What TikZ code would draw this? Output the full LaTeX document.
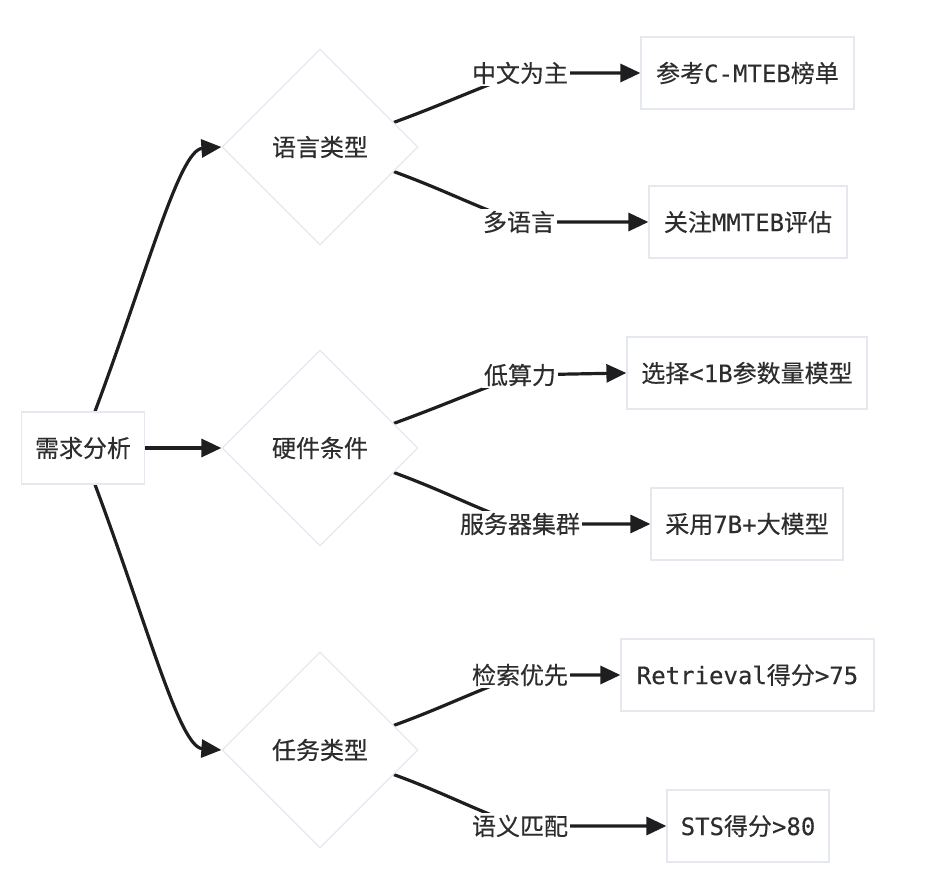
\documentclass[tikz,border=0pt]{standalone}
\usepackage{fontspec}
\setmainfont{Noto Sans CJK SC}[FakeBold=0.35]
\setmonofont{DejaVu Sans Mono}[FakeBold=0.2]
\usetikzlibrary{shapes.geometric,arrows.meta,calc,backgrounds}
\definecolor{boxline}{RGB}{229,232,238}
\definecolor{ink}{RGB}{45,45,45}
\definecolor{wire}{RGB}{30,30,32}
\begin{document}
\begin{tikzpicture}[x=0.5pt,y=0.5pt,
  font=\fontsize{12}{14}\selectfont,
  box/.style={draw=boxline, line width=0.6pt, fill=white, text=ink, minimum height=36pt, inner sep=0pt},
  choice/.style={diamond, draw=boxline, line width=0.6pt, fill=white, text=ink, minimum width=98pt, minimum height=98pt, inner sep=0pt},
  lbl/.style={fill=white, text=ink, inner sep=1pt},
  edge/.style={draw=wire, line width=1.6pt, -{Triangle[length=10pt,width=9pt]}}]
  \useasboundingbox (0,0) rectangle (934,-882);
  % LEFT: start
  \node[box, minimum width=61.5pt] (need) at (83,-448) {需求分析};
  % CENTER: decisions
  \node[choice] (lang) at (320,-147) {语言类型};
  \node[choice] (hw) at (320,-448) {硬件条件};
  \node[choice] (task) at (320,-750) {任务类型};
  % RIGHT: results
  \node[box, minimum width=106.5pt] (r1) at (747.5,-73) {参考\texttt{C-MTEB}榜单};
  \node[box, minimum width=99pt] (r2) at (748,-222) {关注\texttt{MMTEB}评估};
  \node[box, minimum width=120pt] (r3) at (747,-373) {选择\texttt{<1B}参数量模型};
  \node[box, minimum width=96pt] (r4) at (747,-524) {采用\texttt{7B+}大模型};
  \node[box, minimum width=126.5pt] (r5) at (747.5,-675) {\texttt{Retrieval}得分\texttt{>75}};
  \node[box, minimum width=81pt] (r6) at (748,-826) {\texttt{STS}得分\texttt{>80}};
  % edge labels
  \node[lbl] (l1) at (520,-73) {中文为主};
  \node[lbl] (l2) at (519,-222) {多语言};
  \node[lbl] (l3) at (520,-375) {低算力};
  \node[lbl] (l4) at (520,-524) {服务器集群};
  \node[lbl] (l5) at (520,-675) {检索优先};
  \node[lbl] (l6) at (520,-826) {语义匹配};
  % connectors
  \begin{pgfonlayer}{background}
    \draw[edge] ([xshift=6pt]need.north) .. controls +(53,142) and +(-42,-3) .. (lang.west);
    \draw[edge] (need) -- (hw);
    \draw[edge] ([xshift=6pt]need.south) .. controls +(53,-142) and +(-42,3) .. (task.west);
    \draw[edge] ($(lang.east)!0.25!(lang.north)$) to[out=20,in=200] (l1.center) -- (r1.west);
    \draw[edge] ($(lang.east)!0.25!(lang.south)$) to[out=-20,in=160] (l2.center) -- (r2.west);
    \draw[edge] ($(hw.east)!0.25!(hw.north)$) to[out=20,in=200] (l3.center) -- (r3.west);
    \draw[edge] ($(hw.east)!0.25!(hw.south)$) to[out=-20,in=160] (l4.center) -- (r4.west);
    \draw[edge] ($(task.east)!0.25!(task.north)$) to[out=20,in=200] (l5.center) -- (r5.west);
    \draw[edge] ($(task.east)!0.25!(task.south)$) to[out=-20,in=160] (l6.center) -- (r6.west);
  \end{pgfonlayer}
\end{tikzpicture}
\end{document}
